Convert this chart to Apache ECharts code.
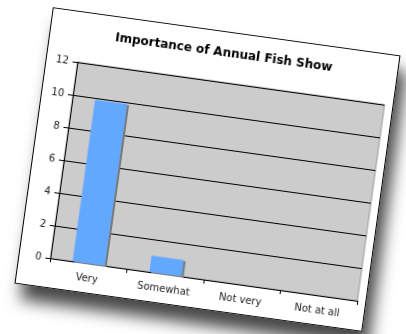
<!DOCTYPE html>
<html>
<head>
<meta charset="utf-8">
<script src="https://cdn.jsdelivr.net/npm/echarts@6/dist/echarts.min.js"></script>
<style>
    html, body {
        margin: 0;
        padding: 0;
        background: #ffffff;
        width: 406px;
        height: 334px;
        overflow: hidden;
    }
    .card {
        position: absolute;
        left: 32px;
        top: 30px;
        width: 349px;
        height: 277px;
        background: #ffffff;
        border: 1px solid #000000;
        transform: rotate(7.9deg);
        box-shadow: 8px 15px 16px rgba(0, 0, 0, 0.72);
    }
    .chart {
        width: 100%;
        height: 100%;
    }
</style>
</head>
<body>
<div class="card"><div id="chart" class="chart"></div></div>
<script>
const title = 'Importance of Annual Fish Show'
const categories = ['Very', 'Somewhat', 'Not very', 'Not at all']
const values = [9.9, 1, 0, 0]
const yTicks = [0, 2, 4, 6, 8, 10, 12]

const fontFamily = '"DejaVu Sans", Verdana, sans-serif'
const myChart = echarts.init(document.getElementById('chart'))

const chartOptions = {
    animation: false,
    textStyle: {
        fontFamily: fontFamily
    },
    title: {
        text: title,
        left: 'center',
        top: 10,
        textStyle: {
            fontFamily: fontFamily,
            fontSize: 12,
            fontWeight: 'bold',
            color: '#000000'
        }
    },
    grid: {
        show: true,
        left: 31,
        right: 8,
        top: 50,
        bottom: 29,
        backgroundColor: '#cccccc',
        borderColor: '#999999',
        borderWidth: 1
    },
    xAxis: {
        type: 'category',
        data: categories,
        boundaryGap: true,
        axisLine: {
            lineStyle: {
                color: '#000000',
                width: 1
            }
        },
        axisTick: {
            show: true,
            length: 4,
            lineStyle: {
                color: '#000000'
            }
        },
        axisLabel: {
            color: '#222222',
            fontSize: 10,
            margin: 10
        }
    },
    yAxis: {
        type: 'value',
        min: yTicks[0],
        max: yTicks[yTicks.length - 1],
        interval: 2,
        axisLine: {
            show: true,
            lineStyle: {
                color: '#000000',
                width: 1
            }
        },
        axisTick: {
            show: true,
            length: 5,
            lineStyle: {
                color: '#000000'
            }
        },
        axisLabel: {
            color: '#222222',
            fontSize: 10,
            margin: 9
        },
        splitLine: {
            show: true,
            lineStyle: {
                color: '#000000',
                width: 1
            }
        }
    },
    series: [{
        type: 'bar',
        data: values,
        barWidth: '42%',
        itemStyle: {
            color: '#63a8ff',
            shadowColor: '#7a7a7a',
            shadowBlur: 0,
            shadowOffsetX: 2,
            shadowOffsetY: 1
        }
    }]
}

myChart.setOption(chartOptions)
</script>
</body>
</html>
